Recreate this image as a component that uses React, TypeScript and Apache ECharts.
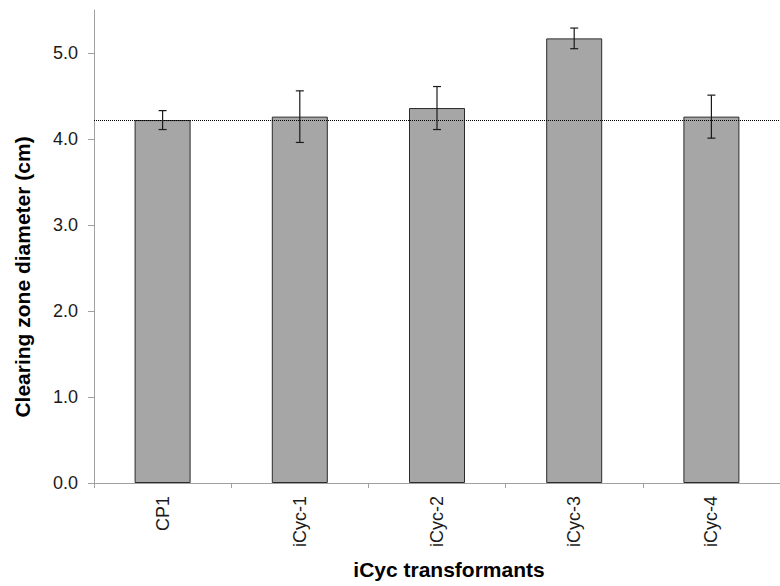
import React, { useEffect, useRef } from "react";
import * as echarts from "echarts";

const categories = ["CP1", "iCyc-1", "iCyc-2", "iCyc-3", "iCyc-4"];
const means = [4.22, 4.26, 4.36, 5.17, 4.26];
const errors = [0.11, 0.3, 0.25, 0.12, 0.25];
const referenceValue = 4.22;
const yTicks = [0, 1, 2, 3, 4, 5];

export default function App() {
  const ref = useRef<HTMLDivElement>(null);

  useEffect(() => {
    document.body.style.margin = "0";
    const chart = echarts.init(ref.current!, null, { renderer: "svg" });
    const font = "'Liberation Sans', Arial, sans-serif";
    const errData = means.map((m, i) => [i, m - errors[i], m + errors[i]]);

    chart.setOption({
      animation: false,
      backgroundColor: "#ffffff",
      grid: { left: 94, top: 10, width: 695, height: 473 },
      xAxis: {
        type: "category",
        data: categories,
        boundaryGap: true,
        axisLine: { show: true, lineStyle: { color: "#a0a0a0", width: 1 } },
        axisTick: { show: true, length: 5, interval: 0, lineStyle: { color: "#a0a0a0" } },
        axisLabel: {
          rotate: 90,
          margin: 13,
          interval: 0,
          fontSize: 18,
          fontFamily: font,
          color: "#1a1a1a",
        },
        splitLine: { show: false },
      },
      yAxis: {
        type: "value",
        min: 0,
        max: 5.5,
        interval: 1,
        axisLine: { show: true, lineStyle: { color: "#a0a0a0", width: 1 } },
        axisTick: {
          show: true,
          length: 6,
          customValues: yTicks,
          lineStyle: { color: "#a0a0a0" },
        },
        axisLabel: {
          customValues: yTicks,
          margin: 16,
          fontSize: 18,
          fontFamily: font,
          color: "#1a1a1a",
          formatter: (v: number) => v.toFixed(1),
        },
        splitLine: { show: false },
      },
      series: [
        {
          type: "bar",
          data: means,
          barWidth: 56,
          itemStyle: { color: "#a6a6a6", borderColor: "#2b2b2b", borderWidth: 1 },
          markLine: {
            silent: true,
            symbol: "none",
            label: { show: false },
            lineStyle: { color: "#000000", type: "dotted", width: 1 },
            data: [{ yAxis: referenceValue }],
          },
          z: 2,
        },
        {
          type: "custom",
          data: errData,
          z: 5,
          renderItem: (params: any, api: any) => {
            const x = api.value(0);
            const lo = api.coord([x, api.value(1)]);
            const hi = api.coord([x, api.value(2)]);
            const half = 4;
            const style = { stroke: "#1a1a1a", lineWidth: 1.2 };
            return {
              type: "group",
              children: [
                { type: "line", shape: { x1: hi[0], y1: hi[1], x2: lo[0], y2: lo[1] }, style },
                { type: "line", shape: { x1: hi[0] - half, y1: hi[1], x2: hi[0] + half, y2: hi[1] }, style },
                { type: "line", shape: { x1: lo[0] - half, y1: lo[1], x2: lo[0] + half, y2: lo[1] }, style },
              ],
            };
          },
        },
      ],
      graphic: [
        {
          type: "text",
          x: 22,
          y: 277,
          rotation: Math.PI / 2,
          style: {
            text: "Clearing zone diameter (cm)",
            font: `bold 21px ${font}`,
            fill: "#000000",
            textAlign: "center",
            textVerticalAlign: "middle",
          },
        },
        {
          type: "text",
          x: 449,
          y: 569,
          style: {
            text: "iCyc transformants",
            font: `bold 21px ${font}`,
            fill: "#000000",
            textAlign: "center",
            textVerticalAlign: "middle",
          },
        },
      ],
    });

    return () => chart.dispose();
  }, []);

  return <div ref={ref} style={{ width: 780, height: 586 }} />;
}
